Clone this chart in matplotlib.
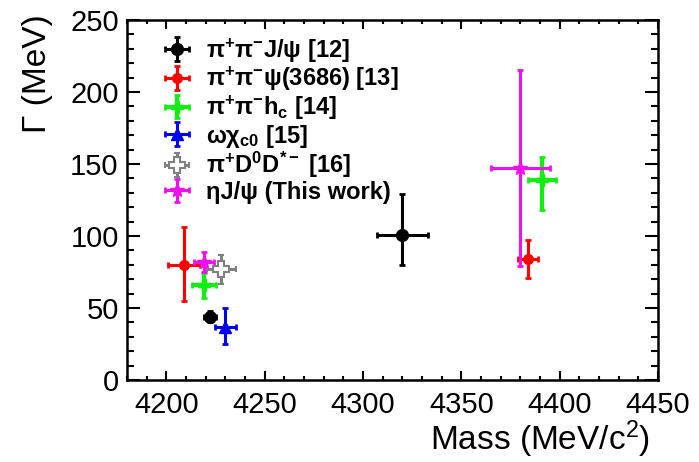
import matplotlib
matplotlib.use('Agg')
import matplotlib.pyplot as plt
from matplotlib.ticker import MultipleLocator

plt.rcParams['font.family'] = ['Liberation Sans', 'DejaVu Sans']
plt.rcParams['mathtext.default'] = 'regular'

# Mass (MeV/c^2) and width (MeV) of each resonance, with errors
jpsi_m = [4222, 4320]
jpsi_w = [44, 101]
jpsi_merr = [3, 13]
jpsi_wlo = [4, 21]
jpsi_whi = [4, 28]

psi2s_m = [4209, 4384]
psi2s_w = [80, 84]
psi2s_merr = [8, 5]
psi2s_wlo = [25, 13]
psi2s_whi = [26, 13]

hc_m = [4219, 4391]
hc_w = [66, 139]
hc_merr = [6, 7]
hc_wlo = [9, 21]
hc_whi = [8, 16]

chic0_m = [4230]
chic0_w = [37]
chic0_merr = [5.5]
chic0_wlo = [12]
chic0_whi = [13]

dd_m = [4228]
dd_w = [77]
dd_merr = [7.5]
dd_wlo = [10]
dd_whi = [10]

eta_m = [4219, 4380]
eta_w = [82, 147]
eta_merr = [5, 15]
eta_wlo = [7, 68]
eta_whi = [7, 68]

labels = [r'π$^{+}$π$^{-}$J/ψ [12]',
          r'π$^{+}$π$^{-}$ψ(3686) [13]',
          r'π$^{+}$π$^{-}$h$_{c}$ [14]',
          r'ωχ$_{c0}$ [15]',
          r'π$^{+}$D$^{0}$D$^{*-}$ [16]',
          r'ηJ/ψ (This work)']

fig = plt.figure(figsize=(6.99, 4.62), dpi=100)
ax = fig.add_axes([0.1817, 0.1775, 0.7596, 0.7792])

eb = dict(linestyle='none', elinewidth=2.2, capsize=2.5, capthick=2)
h1 = ax.errorbar(jpsi_m, jpsi_w, xerr=jpsi_merr, yerr=[jpsi_wlo, jpsi_whi],
                 marker='o', ms=8.5, color='black', **eb)
h2 = ax.errorbar(psi2s_m, psi2s_w, xerr=psi2s_merr, yerr=[psi2s_wlo, psi2s_whi],
                 marker='o', ms=7, color='#ff0000', **eb)
h3 = ax.errorbar(hc_m, hc_w, xerr=hc_merr, yerr=[hc_wlo, hc_whi],
                 marker='P', ms=9, color='#11ee11', **dict(eb, elinewidth=3))
h4 = ax.errorbar(chic0_m, chic0_w, xerr=chic0_merr, yerr=[chic0_wlo, chic0_whi],
                 marker='^', ms=9, color='#0000ee', **eb)
h5 = ax.errorbar(dd_m, dd_w, xerr=dd_merr, yerr=[dd_wlo, dd_whi],
                 marker='P', ms=12, color='#808080', mfc='white', mec='#808080',
                 mew=1.5, **eb)
h6 = ax.errorbar(eta_m, eta_w, xerr=eta_merr, yerr=[eta_wlo, eta_whi],
                 marker='*', ms=10, color='#ee11ee', **eb)

ax.set_xlim(4180, 4450)
ax.set_ylim(0, 250)
ax.xaxis.set_major_locator(MultipleLocator(50))
ax.xaxis.set_minor_locator(MultipleLocator(10))
ax.yaxis.set_major_locator(MultipleLocator(50))
ax.yaxis.set_minor_locator(MultipleLocator(10))
ax.tick_params(which='both', direction='in', top=True, right=True, width=1.5,
               labelsize=21)
ax.tick_params(axis='x', which='major', length=6.5, pad=8)
ax.tick_params(axis='x', which='minor', length=3.2)
ax.tick_params(axis='y', which='major', length=9.5, pad=6)
ax.tick_params(axis='y', which='minor', length=4.7)
for s in ax.spines.values():
    s.set_linewidth(1.8)

fig.text(0.053, 0.97, 'Γ (MeV)', rotation=90, ha='center', va='top', fontsize=24)
fig.text(0.93, 0.05, r'Mass (MeV/c$^{2}$)', ha='right', va='center', fontsize=24)

ax.legend([h1, h2, h3, h4, h5, h6], labels, loc='upper left',
          bbox_to_anchor=(0.055, 0.955), frameon=False, borderpad=0,
          borderaxespad=0, handlelength=1.75, handletextpad=0.35,
          labelspacing=0.02, prop={'weight': 'bold', 'size': 17})

fig.savefig('out.png', dpi=100)
